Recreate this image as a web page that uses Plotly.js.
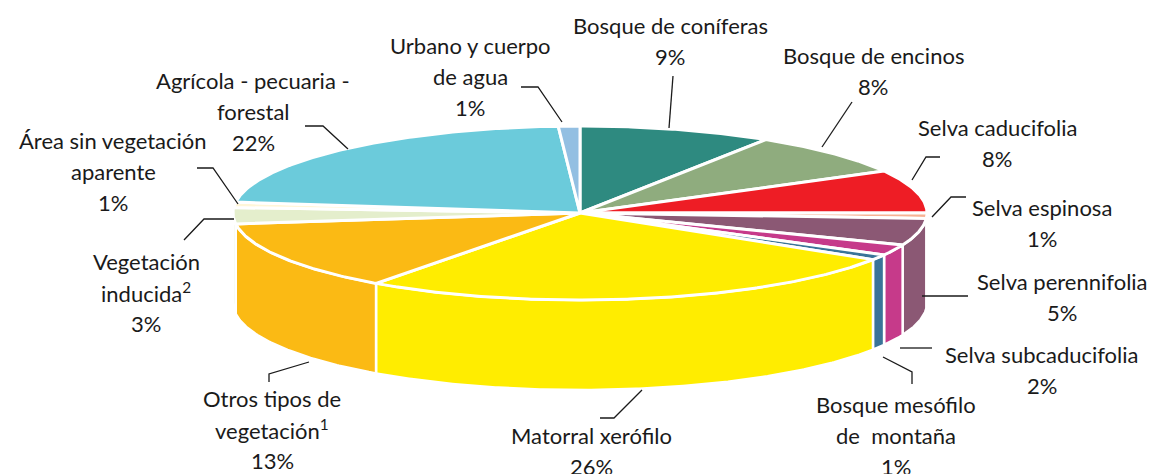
<!DOCTYPE html>
<html><head><meta charset="utf-8">
<script src="https://cdn.plot.ly/plotly-3.0.1.min.js"></script>
<style>html,body{margin:0;padding:0;background:#fff}#chart{width:1150px;height:474px}</style>
</head><body><div id="chart"></div>
<script>
// ---- data ----
const categories = [
  'Bosque de coníferas', 'Bosque de encinos', 'Selva caducifolia', 'Selva espinosa',
  'Selva perennifolia', 'Selva subcaducifolia', 'Bosque mesófilo de montaña',
  'Matorral xerófilo', 'Otros tipos de vegetación', 'Vegetación inducida',
  'Área sin vegetación aparente', 'Agrícola - pecuaria - forestal', 'Urbano y cuerpo de agua'
];
const values = [9, 8, 8, 1, 5, 2, 1, 26, 13, 3, 1, 22, 1];
const labelLines = [
  ['Bosque de coníferas'], ['Bosque de encinos'], ['Selva caducifolia'], ['Selva espinosa'],
  ['Selva perennifolia'], ['Selva subcaducifolia'], ['Bosque mesófilo', 'de  montaña'],
  ['Matorral xerófilo'], ['Otros tipos de', 'vegetación<sup>1</sup>'], ['Vegetación', 'inducida<sup>2</sup>'],
  ['Área sin vegetación', 'aparente'], ['Agrícola - pecuaria -', 'forestal'], ['Urbano y cuerpo', 'de agua']
];

// ---- styles / layout ----
const colors = ['#2E8A80', '#8FAC7E', '#EE1D25', '#F7B293', '#8B5874', '#C63A8A', '#3A7498',
  '#FFED00', '#FBBA14', '#E4EECC', '#FFF6D8', '#6BCBDB', '#93BFE2'];
const labelPos = [ // [center x, first line y]
  [670, 25], [873, 55], [997, 127], [1042, 207], [1062, 281], [1042, 354], [896, 404],
  [591, 435], [272, 398], [146, 261], [113, 140], [253, 80], [470, 45]
];
const leaders = [
  [[673, 76], [669, 128]],
  [[852, 102], [822, 147]],
  [[940, 157], [926, 157], [912, 180]],
  [[966, 197], [951, 197], [932, 217]],
  [[968, 296], [922, 296]],
  [[932, 348], [900, 348]],
  [[883, 357], [912, 372], [912, 384]],
  [[600, 418], [614, 418], [642, 390]],
  [[269, 382], [269, 374], [309, 362]],
  [[184, 240], [204, 219], [234, 219]],
  [[197, 168], [213, 168], [238, 204]],
  [[305, 126], [323, 126], [348, 149]],
  [[521, 87], [538, 87], [562, 122]]
];
const cx = 580, cy = 213, rx = 347, ry = 87, depth = 90;

function pt(deg, dy) {
  const r = deg * Math.PI / 180;
  return [cx + rx * Math.sin(r), cy - ry * Math.cos(r) + (dy || 0)];
}
function arc(a, b, dy) {
  const pts = [];
  const n = Math.max(2, Math.ceil(Math.abs(b - a) / 0.5));
  for (let i = 0; i <= n; i++) pts.push(pt(a + (b - a) * i / n, dy));
  return pts;
}

const total = values.reduce((s, v) => s + v, 0);
const slices = [];
let acc = 0;
values.forEach((v, i) => {
  const a = acc / total * 360, b = (acc + v) / total * 360;
  slices.push({a, b, i});
  acc += v;
});

const traces = [];
// side walls (front half only)
slices.forEach(s => {
  const a = Math.max(s.a, 90), b = Math.min(s.b, 270);
  if (a >= b) return;
  const pts = arc(a, b, 0).concat(arc(b, a, depth));
  pts.push(pts[0]);
  traces.push({
    type: 'scatter', mode: 'lines', fill: 'toself', fillcolor: colors[s.i],
    x: pts.map(p => p[0]), y: pts.map(p => p[1]),
    line: {color: '#ffffff', width: 2.5}, hoverinfo: 'skip', showlegend: false
  });
});
// top faces
slices.forEach(s => {
  const pts = [[cx, cy]].concat(arc(s.a, s.b, 0));
  pts.push([cx, cy]);
  traces.push({
    type: 'scatter', mode: 'lines', fill: 'toself', fillcolor: colors[s.i],
    x: pts.map(p => p[0]), y: pts.map(p => p[1]),
    line: {color: '#ffffff', width: 3}, hoverinfo: 'text', text: categories[s.i],
    showlegend: false
  });
});

const annotations = [];
const lineGap = 31;
labelLines.forEach((lines, i) => {
  const all = lines.concat([Math.round(values[i] / total * 100) + '%']);
  all.forEach((t, k) => {
    annotations.push({
      x: labelPos[i][0], y: labelPos[i][1] + k * lineGap, xref: 'x', yref: 'y',
      text: t, showarrow: false, xanchor: 'center', yanchor: 'middle',
      font: {family: 'Lato, "Open Sans", sans-serif', size: 22, color: '#1a1a1a'}
    });
  });
});
const shapes = leaders.map(p => ({
  type: 'path', xref: 'x', yref: 'y',
  path: 'M' + p.map(q => q[0] + ',' + q[1]).join(' L'),
  line: {color: '#1a1a1a', width: 1.3}
}));

Plotly.newPlot('chart', traces, {
  width: 1150, height: 474,
  margin: {l: 0, r: 0, t: 0, b: 0},
  paper_bgcolor: '#ffffff', plot_bgcolor: '#ffffff',
  xaxis: {range: [0, 1150], visible: false, fixedrange: true},
  yaxis: {range: [474, 0], visible: false, fixedrange: true},
  annotations, shapes, showlegend: false
}, {displayModeBar: false, staticPlot: true});
</script></body></html>
